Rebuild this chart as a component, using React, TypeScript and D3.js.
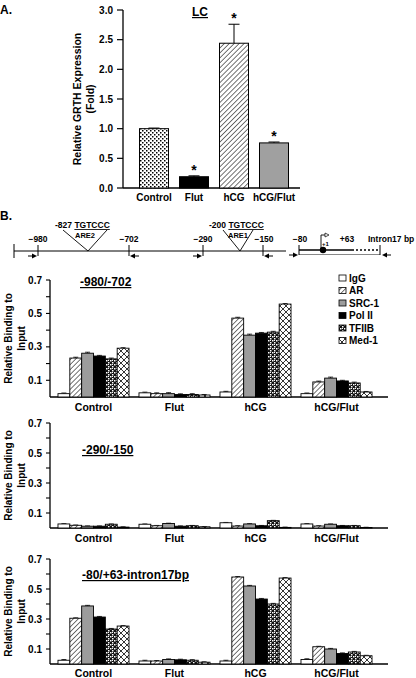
import React from 'react';
import * as d3 from 'd3';

// ---------- Panel A data ----------
const groupsA = ['Control', 'Flut', 'hCG', 'hCG/Flut'];
const valuesA = [1.0, 0.19, 2.44, 0.76];
const errorsA = [0.01, 0.015, 0.32, 0.015];
const starsA = [false, true, true, true];
const ticksA = [0, 0.5, 1, 1.5, 2, 2.5, 3];

// ---------- Panel B data ----------
const groupsB = ['Control', 'Flut', 'hCG', 'hCG/Flut'];
const proteins = ['IgG', 'AR', 'SRC-1', 'Pol II', 'TFIIB', 'Med-1'];
const ticksB = [0.1, 0.3, 0.5, 0.7];
const minorTicksB = [0.2, 0.4, 0.6];

// -980/-702
const b1Control = [0.02, 0.233, 0.262, 0.245, 0.228, 0.292];
const b1Flut = [0.025, 0.02, 0.02, 0.015, 0.015, 0.012];
const b1hCG = [0.03, 0.472, 0.37, 0.382, 0.388, 0.556];
const b1hCGFlut = [0.02, 0.09, 0.113, 0.096, 0.084, 0.03];
const b1Err = [0.004, 0.005, 0.006, 0.004, 0.005, 0.003];

// -290/-150
const b2Control = [0.027, 0.018, 0.012, 0.012, 0.025, 0.006];
const b2Flut = [0.025, 0.015, 0.03, 0.012, 0.015, 0.008];
const b2hCG = [0.035, 0.013, 0.027, 0.015, 0.049, 0.004];
const b2hCGFlut = [0.027, 0.013, 0.025, 0.015, 0.015, 0.003];
const b2Err = [0.002, 0.002, 0.002, 0.002, 0.002, 0.002];

// -80/+63-intron17bp
const b3Control = [0.025, 0.305, 0.387, 0.313, 0.233, 0.253];
const b3Flut = [0.02, 0.02, 0.03, 0.028, 0.025, 0.012];
const b3hCG = [0.02, 0.58, 0.52, 0.433, 0.4, 0.573];
const b3hCGFlut = [0.03, 0.115, 0.1, 0.07, 0.08, 0.055];
const b3Err = [0.005, 0.003, 0.004, 0.004, 0.004, 0.003];

const fillB: Record<string, string> = {
  IgG: '#ffffff',
  AR: 'url(#hatch)',
  'SRC-1': '#9c9c9c',
  'Pol II': '#000000',
  TFIIB: 'url(#stipple)',
  'Med-1': 'url(#cross)',
};
const fillA = ['url(#stippleLight)', '#000000', 'url(#hatch)', '#a0a0a0'];

const FONT = "'Liberation Sans', Arial, sans-serif";

function PanelA() {
  const y = d3.scaleLinear().domain([0, 3]).range([188, 10]);
  const x = d3.scaleBand().domain(groupsA).range([134, 294]).paddingInner(0.275).paddingOuter(0.1375);
  return (
    <g>
      <text x={0} y={14} fontSize={12}>A.</text>
      <text x={200} y={16} fontSize={12} textAnchor="middle" textDecoration="underline">LC</text>
      <line x1={123} x2={123} y1={y(3)} y2={188} stroke="#000" strokeWidth={1.3} />
      <line x1={123} x2={300} y1={188} y2={188} stroke="#000" strokeWidth={1.3} />
      {ticksA.map((t) => (
        <g key={t}>
          <line x1={117} x2={123} y1={y(t)} y2={y(t)} stroke="#000" strokeWidth={1.2} />
          <text x={113} y={y(t)} dy="0.35em" fontSize={10} textAnchor="end">{t.toFixed(1)}</text>
        </g>
      ))}
      <text transform={`translate(81,99) rotate(-90)`} fontSize={10.5} textAnchor="middle">Relative GRTH Expression</text>
      <text transform={`translate(94,99) rotate(-90)`} fontSize={10.5} textAnchor="middle">(Fold)</text>
      {groupsA.map((g, i) => {
        const bx = x(g)!;
        const bw = x.bandwidth();
        const cx = bx + bw / 2;
        const top = y(valuesA[i]);
        const etop = y(valuesA[i] + errorsA[i]);
        return (
          <g key={g}>
            <line x1={cx} x2={cx} y1={top} y2={etop} stroke="#000" strokeWidth={1} />
            <line x1={cx - 5.5} x2={cx + 5.5} y1={etop} y2={etop} stroke="#000" strokeWidth={1} />
            <rect x={bx} y={top} width={bw} height={188 - top} fill={fillA[i]} stroke="#000" strokeWidth={1} />
            {starsA[i] && (
              <text x={cx} y={etop - 1} fontSize={14} textAnchor="middle">*</text>
            )}
            <text x={cx} y={201} fontSize={10} textAnchor="middle">{g}</text>
          </g>
        );
      })}
    </g>
  );
}

function Arrow({ x, y, dir }: { x: number; y: number; dir: number }) {
  // arrow ending at x (tip), pointing in dir (+1 right, -1 left)
  const tail = x - dir * 9;
  return (
    <g>
      <line x1={tail} x2={x - dir * 4} y1={y} y2={y} stroke="#000" strokeWidth={1} />
      <path d={`M${x},${y} L${x - dir * 5},${y - 2.5} L${x - dir * 5},${y + 2.5} Z`} fill="#000" />
    </g>
  );
}

function Diagram() {
  const ly = 251;
  const fs = 8.5;
  return (
    <g fontSize={fs}>
      <text x={0} y={220} fontSize={12}>B.</text>
      <line x1={14} x2={286} y1={ly} y2={ly} stroke="#000" strokeWidth={1} />
      <line x1={14} x2={14} y1={244} y2={258} stroke="#000" strokeWidth={1} />
      {/* segment 1 */}
      <line x1={38} x2={38} y1={245} y2={256} stroke="#000" strokeWidth={1} />
      <line x1={129} x2={129} y1={245} y2={256} stroke="#000" strokeWidth={1} />
      <Arrow x={37} y={256} dir={1} />
      <Arrow x={130} y={256} dir={-1} />
      <text x={38} y={242} textAnchor="middle">−980</text>
      <text x={129} y={242} textAnchor="middle">−702</text>
      <path d={`M63,230 L88,${ly} L107,230`} fill="none" stroke="#000" strokeWidth={0.9} />
      <text x={55} y={228}>-827 <tspan textDecoration="underline">TGTCCC</tspan></text>
      <text x={85} y={238} fontSize={7.5} textAnchor="middle">ARE2</text>
      {/* segment 2 */}
      <line x1={203} x2={203} y1={245} y2={256} stroke="#000" strokeWidth={1} />
      <line x1={263} x2={263} y1={245} y2={256} stroke="#000" strokeWidth={1} />
      <Arrow x={202} y={256} dir={1} />
      <Arrow x={264} y={256} dir={-1} />
      <text x={203} y={242} textAnchor="middle">−290</text>
      <text x={264} y={242} textAnchor="middle">−150</text>
      <path d={`M223,230 L240,${ly} L253,230`} fill="none" stroke="#000" strokeWidth={0.9} />
      <text x={209} y={228}>-200 <tspan textDecoration="underline">TGTCCC</tspan></text>
      <text x={238} y={238} fontSize={7.5} textAnchor="middle">ARE1</text>
      {/* segment 3 */}
      <line x1={299} x2={380} y1={254.5} y2={254.5} stroke="#888" strokeWidth={1.2} />
      <line x1={299} x2={352} y1={250} y2={250} stroke="#000" strokeWidth={1.6} />
      <line x1={352} x2={380} y1={250} y2={250} stroke="#000" strokeWidth={1.4} strokeDasharray="2,2" />
      <line x1={299} x2={299} y1={245} y2={255} stroke="#000" strokeWidth={1} />
      <line x1={380} x2={380} y1={245} y2={255} stroke="#000" strokeWidth={1} />
      <circle cx={323} cy={250} r={3.2} fill="#000" />
      <path d="M321,250 L321,235 L325,235" fill="none" stroke="#000" strokeWidth={0.9} />
      <path d="M329,235 L325,233 L325,237 Z" fill="none" stroke="#000" strokeWidth={0.7} />
      <text x={322} y={246} fontSize={6}>+1</text>
      <Arrow x={298} y={255} dir={1} />
      <Arrow x={382} y={255} dir={-1} />
      <text x={300} y={242} textAnchor="middle">−80</text>
      <text x={347} y={242} textAnchor="middle">+63</text>
      <text x={368} y={242}>Intron17 bp</text>
    </g>
  );
}

function Legend() {
  const y0 = 278;
  const dy = 12.5;
  return (
    <g>
      {proteins.map((p, i) => (
        <g key={p}>
          <rect x={339} y={y0 + i * dy - 3} width={7} height={6} fill={fillB[p]} stroke="#000" strokeWidth={0.8} />
          <text x={349} y={y0 + i * dy} dy="0.35em" fontSize={10}>{p}</text>
        </g>
      ))}
    </g>
  );
}

interface PanelBProps {
  vals: number[][];
  err: number[];
  yTop: number;
  yBot: number;
  title: string;
  titleX: number;
  titleY: number;
  catY: number;
}

function PanelB({ vals, err, yTop, yBot, title, titleX, titleY, catY }: PanelBProps) {
  const y = d3.scaleLinear().domain([0, 0.7]).range([yBot, yTop]);
  const x0 = d3.scaleBand().domain(groupsB).range([53, 377]).paddingInner(0.123).paddingOuter(0.0615);
  const x1 = d3.scaleBand().domain(proteins).range([0, x0.bandwidth()]);
  const mid = (yTop + yBot) / 2;
  return (
    <g>
      <line x1={50} x2={50} y1={yTop} y2={yBot} stroke="#000" strokeWidth={1.3} />
      <line x1={50} x2={388} y1={yBot} y2={yBot} stroke="#000" strokeWidth={1.3} />
      {ticksB.map((t) => (
        <g key={t}>
          <line x1={46} x2={50} y1={y(t)} y2={y(t)} stroke="#000" strokeWidth={1.1} />
          <text x={42} y={y(t)} dy="0.35em" fontSize={10} textAnchor="end">{t.toFixed(1)}</text>
        </g>
      ))}
      {minorTicksB.map((t) => (
        <line key={t} x1={46} x2={50} y1={y(t)} y2={y(t)} stroke="#000" strokeWidth={1.1} />
      ))}
      <text transform={`translate(12,${mid}) rotate(-90)`} fontSize={10} textAnchor="middle">Relative Binding to</text>
      <text transform={`translate(25,${mid}) rotate(-90)`} fontSize={10} textAnchor="middle">Input</text>
      <text x={titleX} y={titleY} fontSize={12} textDecoration="underline">{title}</text>
      {groupsB.map((g, gi) => (
        <g key={g} transform={`translate(${x0(g)},0)`}>
          {proteins.map((p, pi) => {
            const v = vals[gi][pi];
            const bx = x1(p)!;
            const bw = x1.bandwidth();
            const top = y(v);
            const et = y(v + err[pi]);
            const cx = bx + bw / 2;
            return (
              <g key={p}>
                <line x1={cx} x2={cx} y1={top} y2={et} stroke="#000" strokeWidth={0.8} />
                <line x1={cx - 2.5} x2={cx + 2.5} y1={et} y2={et} stroke="#000" strokeWidth={0.8} />
                <rect x={bx} y={top} width={bw} height={yBot - top} fill={fillB[p]} stroke="#000" strokeWidth={0.9} />
              </g>
            );
          })}
          <text x={x0.bandwidth() / 2} y={catY} fontSize={10.5} textAnchor="middle">{g}</text>
        </g>
      ))}
    </g>
  );
}

export default function App() {
  return (
    <div style={{ position: 'absolute', left: 0, top: 0 }}>
      <svg width={416} height={678} fontFamily={FONT} fontWeight="bold" style={{ display: 'block', background: '#fff' }}>
        <defs>
          <pattern id="hatch" width={3.5} height={3.5} patternUnits="userSpaceOnUse" patternTransform="rotate(45)">
            <rect width={3.5} height={3.5} fill="#fff" />
            <line x1={0} y1={0} x2={0} y2={3.5} stroke="#000" strokeWidth={1.1} />
          </pattern>
          <pattern id="stipple" width={4} height={4} patternUnits="userSpaceOnUse">
            <rect width={4} height={4} fill="#111" />
            <rect x={0} y={0} width={1.5} height={1.5} fill="#fff" />
            <rect x={2} y={2} width={1.5} height={1.5} fill="#fff" />
            <rect x={2} y={0} width={1} height={1} fill="#fff" />
          </pattern>
          <pattern id="stippleLight" width={4} height={4} patternUnits="userSpaceOnUse">
            <rect width={4} height={4} fill="#fff" />
            <rect x={0} y={0} width={1.5} height={1.5} fill="#000" />
            <rect x={2} y={2} width={1.5} height={1.5} fill="#000" />
          </pattern>
          <pattern id="cross" width={6} height={6} patternUnits="userSpaceOnUse">
            <rect width={6} height={6} fill="#fff" />
            <path d="M0,0 L6,6 M6,0 L0,6" stroke="#000" strokeWidth={0.8} />
          </pattern>
        </defs>
        <PanelA />
        <Diagram />
        <Legend />
        <PanelB
          vals={[b1Control, b1Flut, b1hCG, b1hCGFlut]}
          err={b1Err}
          yTop={280}
          yBot={397}
          title="-980/-702"
          titleX={80}
          titleY={286}
          catY={411}
        />
        <PanelB
          vals={[b2Control, b2Flut, b2hCG, b2hCGFlut]}
          err={b2Err}
          yTop={423}
          yBot={528}
          title="-290/-150"
          titleX={82}
          titleY={454}
          catY={542}
        />
        <PanelB
          vals={[b3Control, b3Flut, b3hCG, b3hCGFlut]}
          err={b3Err}
          yTop={559}
          yBot={664}
          title="-80/+63-intron17bp"
          titleX={82}
          titleY={579}
          catY={677}
        />
      </svg>
    </div>
  );
}
